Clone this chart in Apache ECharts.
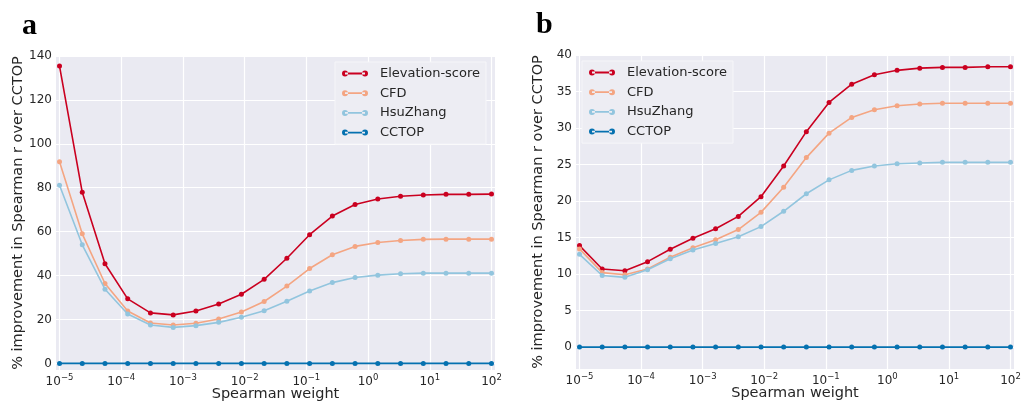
<!DOCTYPE html>
<html><head><meta charset="utf-8">
<script src="https://cdn.jsdelivr.net/npm/echarts@6/dist/echarts.min.js"></script>
<style>html,body{margin:0;padding:0;background:#fff}#c{width:1022px;height:403px}</style>
</head><body><div id="c"></div>
<script>
// ---- data ----
const weights = [1e-5, 2.336e-5, 5.456e-5, 1.274e-4, 2.976e-4, 6.952e-4, 1.624e-3, 3.793e-3, 8.859e-3, 2.069e-2,
                 4.833e-2, 0.1129, 0.2637, 0.6158, 1.438, 3.360, 7.848, 18.33, 42.81, 100];
const seriesNames = ['Elevation-score', 'CFD', 'HsuZhang', 'CCTOP'];
const xTicks = [1e-5, 1e-4, 1e-3, 1e-2, 1e-1, 1, 10, 100];
const xTickExps = ['−5', '−4', '−3', '−2', '−1', '0', '1', '2'];
const yTicksA = [0, 20, 40, 60, 80, 100, 120, 140];
const yTicksB = [0, 5, 10, 15, 20, 25, 30, 35, 40];

const elevA = [135.4, 77.9, 45.4, 29.4, 23.0, 22.1, 23.9, 27.1, 31.5, 38.3, 47.9, 58.6, 67.1, 72.4, 74.9, 76.1, 76.7, 77.0, 77.0, 77.1];
const cfdA  = [91.8, 59.0, 36.4, 23.9, 18.4, 17.5, 18.3, 20.2, 23.4, 28.2, 35.2, 43.2, 49.5, 53.3, 55.1, 56.0, 56.5, 56.6, 56.6, 56.6];
const hsuA  = [81.1, 54.0, 33.8, 22.5, 17.5, 16.4, 17.2, 18.7, 21.0, 24.0, 28.3, 33.0, 36.8, 39.1, 40.2, 40.8, 41.1, 41.1, 41.1, 41.1];
const cctopA = [0, 0, 0, 0, 0, 0, 0, 0, 0, 0, 0, 0, 0, 0, 0, 0, 0, 0, 0, 0];

const elevB = [13.9, 10.7, 10.45, 11.7, 13.4, 14.9, 16.2, 17.9, 20.6, 24.8, 29.5, 33.5, 36.0, 37.3, 37.9, 38.2, 38.3, 38.3, 38.4, 38.4];
const cfdB  = [13.45, 10.2, 9.9, 10.7, 12.3, 13.6, 14.7, 16.1, 18.45, 21.9, 25.95, 29.3, 31.45, 32.5, 33.05, 33.3, 33.4, 33.4, 33.4, 33.4];
const hsuB  = [12.7, 9.8, 9.55, 10.6, 12.1, 13.3, 14.2, 15.1, 16.5, 18.6, 21.0, 22.9, 24.2, 24.8, 25.1, 25.2, 25.3, 25.3, 25.3, 25.3];
const cctopB = [0, 0, 0, 0, 0, 0, 0, 0, 0, 0, 0, 0, 0, 0, 0, 0, 0, 0, 0, 0];

const colors = ['#ca0020', '#f4a582', '#92c5de', '#0571b0'];
const xTitle = 'Spearman weight';
const yTitle = '% improvement in Spearman r over CCTOP';

// ---- chart ----
const FONT = 'DejaVu Sans';
const TXT = '#262626';
const BG = '#eaeaf2';
const pair = (arr) => weights.map((w, i) => [w, arr[i]]);
const iconPath = 'path://M0,3a3,3 0 1,0 6,0a3,3 0 1,0 -6,0zM3,2.1h20v1.8h-20zM20,3a3,3 0 1,0 6,0a3,3 0 1,0 -6,0z';

function xAxis(gi) {
  return {
    type: 'log', logBase: 10, gridIndex: gi,
    min: 8.77e-6, max: 114,
    name: xTitle, nameLocation: 'middle', nameGap: 17, nameMoveOverlap: false,
    nameTextStyle: { fontFamily: FONT, fontSize: 14.5, color: TXT },
    axisLine: { show: false }, axisTick: { show: false, customValues: xTicks },
    splitLine: { show: true, lineStyle: { color: '#fff', width: 1.2 } },
    axisLabel: {
      customValues: xTicks, margin: 3,
      formatter: (v) => {
        const e = Math.round(Math.log10(v));
        const idx = xTicks.findIndex(t => Math.round(Math.log10(t)) === e);
        return '{b|10}{s|' + xTickExps[idx] + '}';
      },
      rich: {
        b: { fontFamily: FONT, fontSize: 12, color: TXT, lineHeight: 15, verticalAlign: 'bottom' },
        s: { fontFamily: FONT, fontSize: 8.5, color: TXT, lineHeight: 9, verticalAlign: 'top' }
      }
    }
  };
}
function yAxis(gi, ticks, min, max) {
  return {
    type: 'value', gridIndex: gi, min: min, max: max,
    name: yTitle, nameLocation: 'middle', nameGap: 30, nameMoveOverlap: false,
    nameTextStyle: { fontFamily: FONT, fontSize: 14.5, color: TXT },
    axisLine: { show: false }, axisTick: { show: false, customValues: ticks },
    splitLine: { show: true, lineStyle: { color: '#fff', width: 1.2 } },
    axisLabel: { customValues: ticks, margin: 4, fontFamily: FONT, fontSize: 12, color: TXT }
  };
}
function mkSeries(name, data, i, xi) {
  return {
    name: name, type: 'line', xAxisIndex: xi, yAxisIndex: xi, data: pair(data),
    symbol: 'circle', symbolSize: 5, showSymbol: true,
    lineStyle: { color: colors[i], width: 1.6 }, itemStyle: { color: colors[i] },
    emphasis: { disabled: true }, animation: false, z: 2 + i
  };
}
function legend(left, top) {
  return {
    left: left, top: top, orient: 'vertical',
    data: seriesNames.map(n => ({ name: n, icon: iconPath })),
    itemWidth: 26, itemHeight: 6, itemGap: 4.7,
    padding: [4, 6, 4, 7],
    backgroundColor: '#ededf3', borderColor: '#f6f6f9', borderWidth: 1, borderRadius: 0,
    textStyle: { fontFamily: FONT, fontSize: 13, color: TXT, lineHeight: 15, padding: [0, 0, 0, 7] },
    selectedMode: false
  };
}

const chart = echarts.init(document.getElementById('c'), null, { renderer: 'canvas' });
const legA = legend(335, 62);
const legB = legend(582, 61);
chart.setOption({
  backgroundColor: '#fff',
  animation: false,
  color: colors,
  grid: [
    { left: 56, top: 56, width: 439, height: 314, backgroundColor: BG, show: true, borderWidth: 0, containLabel: false, outerBoundsMode: 'none' },
    { left: 576, top: 55, width: 438, height: 314, backgroundColor: BG, show: true, borderWidth: 0, containLabel: false, outerBoundsMode: 'none' }
  ],
  xAxis: [xAxis(0), xAxis(1)],
  yAxis: [yAxis(0, yTicksA, -3, 140), yAxis(1, yTicksB, -3, 40)],
  legend: [legA, legB],
  graphic: [
    { type: 'text', x: 22, y: 26, style: { text: 'a', font: 'bold 30px "Liberation Serif"', fill: '#000', verticalAlign: 'middle' } },
    { type: 'text', x: 536, y: 25, style: { text: 'b', font: 'bold 30px "Liberation Serif"', fill: '#000', verticalAlign: 'middle' } }
  ],
  series: [
    mkSeries(seriesNames[0], elevA, 0, 0),
    mkSeries(seriesNames[1], cfdA, 1, 0),
    mkSeries(seriesNames[2], hsuA, 2, 0),
    mkSeries(seriesNames[3], cctopA, 3, 0),
    mkSeries(seriesNames[0], elevB, 0, 1),
    mkSeries(seriesNames[1], cfdB, 1, 1),
    mkSeries(seriesNames[2], hsuB, 2, 1),
    mkSeries(seriesNames[3], cctopB, 3, 1)
  ]
});
</script></body></html>
